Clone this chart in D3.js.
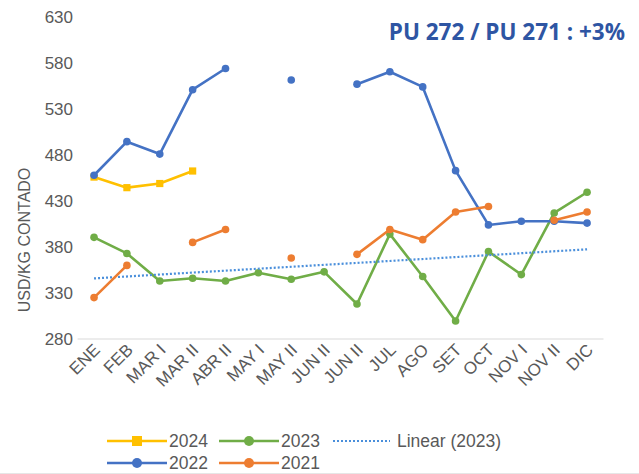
<!DOCTYPE html>
<html>
<head>
<meta charset="utf-8">
<script src="https://cdn.jsdelivr.net/npm/d3@7"></script>
<style>
  body { margin: 0; background: #fff; }
  text { font-family: "Liberation Sans", Arial, sans-serif; }
</style>
</head>
<body>
<div id="chart"></div>
<script>
// categories (x axis), as written in the chart
var months = ["ENE", "FEB", "MAR I", "MAR II", "ABR II", "MAY I", "MAY II", "JUN II",
              "JUN II", "JUL", "AGO", "SET", "OCT", "NOV I", "NOV II", "DIC"];

// series values, null = no point
var s2024 = [456, 444.5, 449, 462.6, null, null, null, null, null, null, null, null, null, null, null, null];
var s2023 = [390.5, 373, 343, 346, 343, 352, 345, 353, 318, 394, 348, 299.6, 375, 350, 417, 439.5];
var s2022 = [458, 494.5, 481, 551, 574, null, 561.5, null, 557, 570.5, 554, 463, 404, 408, 408, 406];
var s2021 = [325, 360, null, 385, 399, null, 368, null, 372, 399, 388, 418, 424, null, 409, 418];

var yTicks = [280, 330, 380, 430, 480, 530, 580, 630];

var width = 639, height = 474;

var svg = d3.select("#chart")
    .append("svg")
    .attr("width", width)
    .attr("height", height);

// scales
var x = d3.scaleBand()
    .domain(d3.range(months.length))
    .range([77.6, 603.5]);

var y = d3.scaleLinear()
    .domain([280, 630])
    .range([339, 17]);

function cx(i) { return x(i) + x.bandwidth() / 2; }

// title
svg.append("text")
    .attr("x", 625)
    .attr("y", 40)
    .attr("text-anchor", "end")
    .attr("fill", "#2E55A3")
    .attr("font-size", "22.5px")
    .attr("font-weight", "bold")
    .style("font-family", "'Open Sans', sans-serif")
    .text("PU 272 / PU 271 : +3%");

// base line
svg.append("line")
    .attr("x1", 77.6).attr("x2", 603.5)
    .attr("y1", y(280)).attr("y2", y(280))
    .attr("stroke", "#d9d9d9")
    .attr("stroke-width", 1);

// y axis labels
var yAxis = d3.axisLeft(y).tickValues(yTicks).tickSize(0).tickPadding(5);
svg.append("g")
    .attr("transform", "translate(78,0)")
    .call(yAxis)
    .call(function(g) { g.select(".domain").remove(); })
    .selectAll("text")
    .attr("fill", "#595959")
    .attr("font-size", "17px")
    .style("font-family", "'Liberation Sans', Arial, sans-serif");

// y axis title
svg.append("text")
    .attr("transform", "translate(30,240) rotate(-90)")
    .attr("text-anchor", "middle")
    .attr("fill", "#595959")
    .attr("font-size", "16px")
    .text("USD/KG CONTADO");

// x axis labels
var xAxis = d3.axisBottom(x).tickFormat(function(i) { return months[i]; }).tickSize(0).tickPadding(0);
svg.append("g")
    .attr("transform", "translate(0," + y(280) + ")")
    .call(xAxis)
    .call(function(g) { g.select(".domain").remove(); })
    .selectAll("text")
    .attr("fill", "#595959")
    .attr("font-size", "17px")
    .style("font-family", "'Liberation Sans', Arial, sans-serif")
    .attr("text-anchor", "end")
    .attr("dy", null)
    .attr("y", 0)
    .attr("transform", "translate(7,12) rotate(-45)");

// trend line for 2023 (least squares, like the spreadsheet does)
var pts = s2023.map(function(v, i) { return [i, v]; });
var mx = d3.mean(pts, function(p) { return p[0]; });
var my = d3.mean(pts, function(p) { return p[1]; });
var slope = d3.sum(pts, function(p) { return (p[0] - mx) * (p[1] - my); }) /
            d3.sum(pts, function(p) { return (p[0] - mx) * (p[0] - mx); });
var i0 = 0, i1 = months.length - 1;

var lineGen = d3.line()
    .defined(function(d) { return d != null; })
    .x(function(d, i) { return cx(i); })
    .y(function(d) { return y(d); });

function drawSeries(data, color, square) {
    svg.append("path")
        .datum(data)
        .attr("d", lineGen)
        .attr("fill", "none")
        .attr("stroke", color)
        .attr("stroke-width", 2.6)
        .attr("stroke-linejoin", "round");

    var pts = data.map(function(v, i) { return { v: v, i: i }; })
        .filter(function(d) { return d.v != null; });

    if (square) {
        svg.selectAll(null)
            .data(pts)
            .enter()
            .append("rect")
            .attr("x", function(d) { return cx(d.i) - 3.6; })
            .attr("y", function(d) { return y(d.v) - 3.6; })
            .attr("width", 7.2)
            .attr("height", 7.2)
            .attr("fill", color);
    } else {
        svg.selectAll(null)
            .data(pts)
            .enter()
            .append("circle")
            .attr("cx", function(d) { return cx(d.i); })
            .attr("cy", function(d) { return y(d.v); })
            .attr("r", 3.8)
            .attr("fill", color);
    }
}

drawSeries(s2024, "#FFC000", true);
drawSeries(s2023, "#70AD47", false);

svg.append("line")
    .attr("x1", cx(i0)).attr("x2", cx(i1))
    .attr("y1", y(my + slope * (i0 - mx)))
    .attr("y2", y(my + slope * (i1 - mx)))
    .attr("stroke", "#4A8FDB")
    .attr("stroke-width", 2.2)
    .attr("stroke-dasharray", "2,2");

drawSeries(s2022, "#4472C4", false);
drawSeries(s2021, "#ED7D31", false);

// legend
var legend = [
    { name: "2024", color: "#FFC000", kind: "square", x: 107, y: 441 },
    { name: "2023", color: "#70AD47", kind: "circle", x: 219, y: 441 },
    { name: "Linear (2023)", color: "#4A8FDB", kind: "dots", x: 333, y: 441 },
    { name: "2022", color: "#4472C4", kind: "circle", x: 107, y: 463 },
    { name: "2021", color: "#ED7D31", kind: "circle", x: 219, y: 463 }
];

legend.forEach(function(d) {
    var len = d.kind == "dots" ? 57 : 60;
    svg.append("line")
        .attr("x1", d.x).attr("x2", d.x + len)
        .attr("y1", d.y).attr("y2", d.y)
        .attr("stroke", d.color)
        .attr("stroke-width", d.kind == "dots" ? 2 : 2.6)
        .attr("stroke-dasharray", d.kind == "dots" ? "2,2" : null);
    if (d.kind == "square") {
        svg.append("rect")
            .attr("x", d.x + 30 - 5).attr("y", d.y - 5)
            .attr("width", 10).attr("height", 10)
            .attr("fill", d.color);
    } else if (d.kind == "circle") {
        svg.append("circle")
            .attr("cx", d.x + 30).attr("cy", d.y)
            .attr("r", 5)
            .attr("fill", d.color);
    }
    svg.append("text")
        .attr("x", d.x + len + (d.kind == "dots" ? 7 : 2))
        .attr("y", d.y + 6)
        .attr("fill", "#595959")
        .attr("font-size", "17.5px")
        .text(d.name);
});

// bottom border
svg.append("line")
    .attr("x1", 0).attr("x2", width)
    .attr("y1", 473.5).attr("y2", 473.5)
    .attr("stroke", "#e6e6e6");
</script>
</body>
</html>
